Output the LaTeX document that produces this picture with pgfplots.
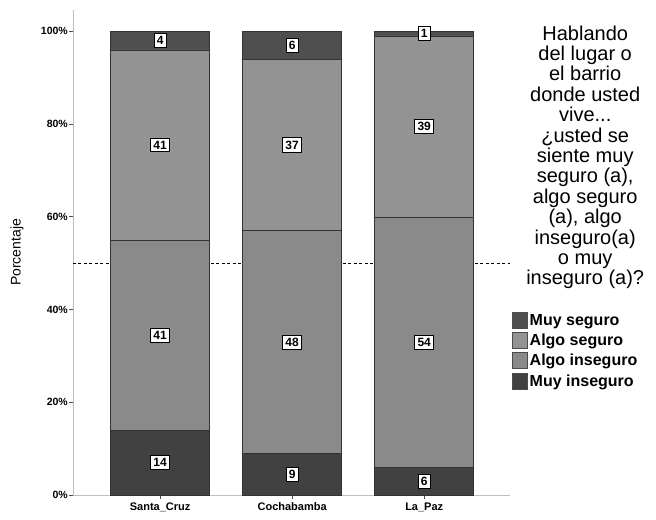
\documentclass[border=0pt]{standalone}
\usepackage{fontspec}
\setmainfont{Liberation Sans}
\usepackage{pgfplots}
\usepackage{pgfplotstable}
\pgfplotsset{compat=1.18}

\definecolor{cMI}{HTML}{414141}
\definecolor{cAI}{HTML}{8A8A8A}
\definecolor{cAS}{HTML}{939393}
\definecolor{cMS}{HTML}{4F4F4F}

% porcentajes por ciudad
\pgfplotstableread{
x mi ai as ms
0 14 41 41 4
1 9  48 37 6
2 6  54 39 1
}\datos

\begin{document}
\begin{tikzpicture}
\begin{axis}[
  width=437pt, height=485pt, scale only axis,
  ybar stacked, bar width=99pt,
  xmin=-0.66, xmax=2.65, ymin=0, ymax=104.6,
  axis x line*=bottom, axis y line*=left,
  axis line style={-, black!25, line width=0.8pt},
  xtick={0,1,2}, xticklabels={Santa\_Cruz,Cochabamba,La\_Paz},
  ytick={0,20,...,100}, yticklabels={0\%,20\%,40\%,60\%,80\%,100\%},
  tick align=outside, major tick length=4pt,
  tick style={black!70, line width=0.8pt},
  xticklabel style={font=\fontsize{11}{12}\selectfont\bfseries},
  yticklabel style={font=\fontsize{10.5}{11}\selectfont\bfseries, inner sep=1pt},
  ylabel={Porcentaje},
  every axis y label/.style={at={(rel axis cs:-0.128,0.5)}, rotate=90, anchor=center,
    font=\fontsize{14}{15}\selectfont},
  point meta=explicit,
  nodes near coords={\pgfmathprintnumber[assume math mode=true]{\pgfplotspointmeta}},
  nodes near coords align={anchor=center},
  every node near coord/.append style={font=\fontsize{12}{13}\selectfont\bfseries,
    fill=white, draw=black, line width=0.9pt, inner sep=2.8pt, anchor=center},
  every axis plot/.append style={draw=black!80, line width=0.6pt},
  every axis plot post/.append style={legend image code/.code={
    \draw[##1, draw=black!70, line width=0.8pt] (0pt,-8pt) rectangle (15pt,8pt);}},
  reverse legend,
  legend cell align=left,
  legend style={at={(rel axis cs:1.005,0.378)}, anchor=north west, draw=none, fill=none,
    font=\fontsize{16}{17}\selectfont\bfseries, inner sep=0pt, row sep=3.5pt,
    nodes={inner sep=1.5pt}},
  clip=false,
]
\addplot[fill=cMI] table[x=x, y=mi, meta=mi] {\datos};
\addplot[fill=cAI] table[x=x, y=ai, meta=ai] {\datos};
\addplot[fill=cAS] table[x=x, y=as, meta=as] {\datos};
\addplot[fill=cMS] table[x=x, y=ms, meta=ms] {\datos};
\legend{Muy inseguro, Algo inseguro, Algo seguro, Muy seguro}

\draw[black, line width=0.7pt, dash pattern=on 3pt off 2.5pt] (axis cs:-0.66,50) -- (axis cs:2.65,50);

\node[anchor=north, align=center, font=\fontsize{20}{20.4}\selectfont]
  at (rel axis cs:1.172,0.975)
  {Hablando\\del lugar o\\el barrio\\donde usted\\vive...\\¿usted se\\siente muy\\seguro (a),\\algo seguro\\(a), algo\\inseguro(a)\\o muy\\inseguro (a)?};

\coordinate (bl) at (rel axis cs:-0.167,-0.0495);
\coordinate (tr) at (rel axis cs:1.334,1.0206);
\end{axis}
\pgfresetboundingbox
\path (bl) rectangle (tr);
\end{tikzpicture}
\end{document}
